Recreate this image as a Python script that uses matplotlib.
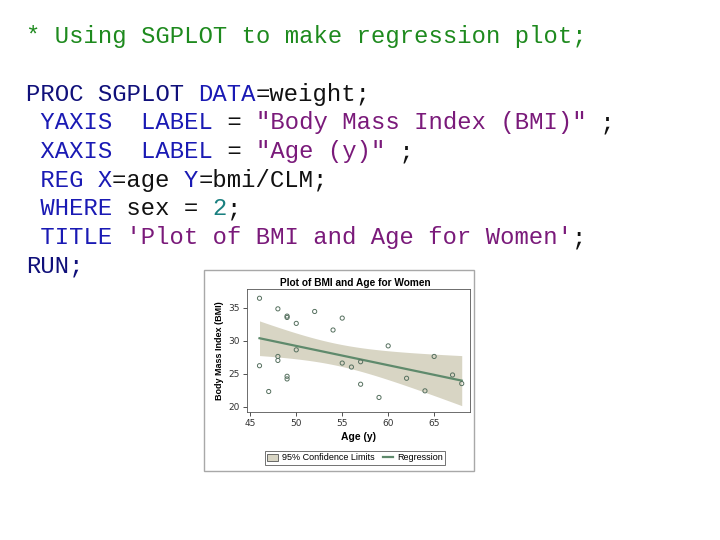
import numpy as np
import matplotlib.pyplot as plt
from matplotlib.patches import Rectangle, Patch
from matplotlib.lines import Line2D

# data
age = [46, 46, 47, 48, 48, 48, 49, 49, 49, 49, 50, 50, 52, 54, 55, 55,
       56, 57, 57, 59, 60, 62, 64, 65, 67, 68]
bmi = [36.4, 26.2, 22.3, 34.8, 27.6, 27.0, 33.7, 33.5, 24.6, 24.2, 32.6, 28.6,
       34.4, 31.6, 33.4, 26.6, 26.0, 26.8, 23.4, 21.4, 29.2, 24.3, 22.4, 27.6,
       24.8, 23.5]
xticks = [45, 50, 55, 60, 65]
yticks = [20, 25, 30, 35]

# code shown on the slide: (text, colour) pieces per line
navy = '#10107a'
blue = '#1a1ab4'
purple = '#7a1a7a'
green = '#1e8a1e'
teal = '#1a8080'
black = '#111111'
code_lines = [
    [("* Using SGPLOT to make regression plot;", green)],
    [],
    [("PROC SGPLOT ", navy), ("DATA", blue), ("=weight;", black)],
    [(" YAXIS  LABEL", blue), (" = ", black), ('"Body Mass Index (BMI)"', purple), (" ;", black)],
    [(" XAXIS  LABEL", blue), (" = ", black), ('"Age (y)"', purple), (" ;", black)],
    [(" REG X", blue), ("=age ", black), ("Y", blue), ("=bmi/CLM;", black)],
    [(" WHERE", blue), (" sex = ", black), ("2", teal), (";", black)],
    [(" TITLE", blue), (" 'Plot of BMI and Age for Women'", purple), (";", black)],
    [("RUN;", navy)],
]

W, H = 720, 540
fig = plt.figure(figsize=(7.2, 5.4), dpi=100)

cw = 14.36
fs = cw / 0.6 * 72 / 100
y = 37
for line in code_lines:
    i = 0
    for txt, col in line:
        fig.text((26 + i * cw) / W, 1 - y / H, txt, color=col, fontsize=fs,
                 family='Liberation Mono', va='center', ha='left')
        i += len(txt)
    y += 28.65

# inset box
fig.patches.append(Rectangle((204 / W, 1 - 471 / H), 270 / W, 201 / H,
                             transform=fig.transFigure, facecolor='white',
                             edgecolor='#a8a8a8', lw=1, zorder=-1))

ax = fig.add_axes([247 / W, 1 - 412 / H, 223 / W, 123 / H])
ax.set_zorder(2)
x = np.array(age, float)
yv = np.array(bmi, float)
b, a = np.polyfit(x, yv, 1)
n = len(x)
s = np.sqrt(np.sum((yv - (a + b * x)) ** 2) / (n - 2))
xs = np.linspace(x.min(), x.max(), 100)
se = s * np.sqrt(1 / n + (xs - x.mean()) ** 2 / np.sum((x - x.mean()) ** 2))
t = 2.064
fit = a + b * xs
ax.fill_between(xs, fit - t * se, fit + t * se, color='#d8d5c4', lw=0)
ax.plot(xs, fit, color='#5f8a6c', lw=1.6)
ax.scatter(x, yv, s=9, facecolors='none', edgecolors='#56705f', lw=0.7, zorder=3)

ax.set_xlim(44.64, 68.9)
ax.set_ylim(19.2, 37.8)
ax.set_xticks(xticks)
ax.set_yticks(yticks)
ax.tick_params(labelsize=6.5, length=3, width=0.6, colors='#333333', pad=2)
for sp in ax.spines.values():
    sp.set_color('#555555')
    sp.set_linewidth(0.6)
ax.set_xlabel('Age (y)', fontsize=7.5, fontweight='bold', family='Liberation Sans', labelpad=3)
ax.set_ylabel('Body Mass Index (BMI)', fontsize=6.5, fontweight='bold', family='Liberation Sans', labelpad=3)
fig.text(355 / W, 1 - 283 / H, 'Plot of BMI and Age for Women', fontsize=7.3,
         fontweight='bold', family='Liberation Sans', ha='center', va='center')

handles = [Patch(facecolor='#d8d5c4', edgecolor='#555555', lw=0.6),
           Line2D([], [], color='#5f8a6c', lw=1.6)]
leg = fig.legend(handles, ['95% Confidence Limits', 'Regression'], ncol=2,
                 loc='center', bbox_to_anchor=(355 / W, 1 - 458 / H),
                 prop={'family': 'Liberation Sans', 'size': 6.5}, frameon=True,
                 fancybox=False, borderpad=0.3, handlelength=1.2, handleheight=0.8,
                 columnspacing=0.9, handletextpad=0.4)
leg.get_frame().set_edgecolor('#333333')
leg.get_frame().set_linewidth(0.6)
leg.set_zorder(3)

fig.savefig('out.png', dpi=100)
